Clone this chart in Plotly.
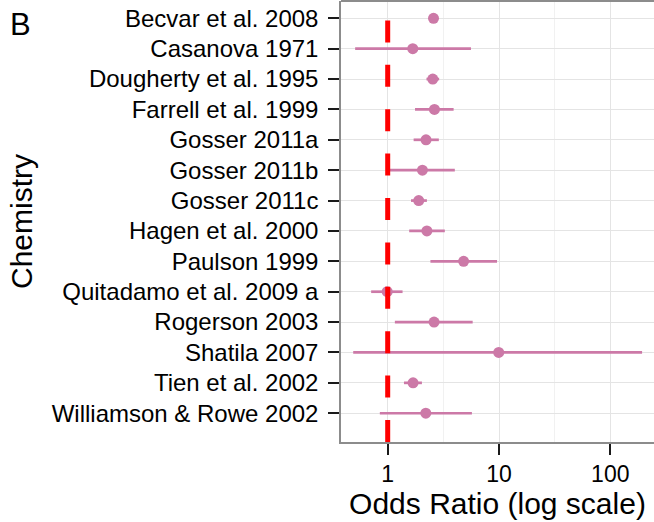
import plotly.graph_objects as go

studies = [
    "Becvar et al. 2008", "Casanova 1971", "Dougherty et al. 1995",
    "Farrell et al. 1999", "Gosser 2011a", "Gosser 2011b", "Gosser 2011c",
    "Hagen et al. 2000", "Paulson 1999", "Quitadamo et al. 2009 a",
    "Rogerson 2003", "Shatila 2007", "Tien et al. 2002",
    "Williamson & Rowe 2002",
]
odds_ratio = [2.58, 1.68, 2.54, 2.63, 2.21, 2.05, 1.90, 2.25, 4.81, 0.99, 2.61, 9.94, 1.69, 2.20]
ci_low = [2.45, 0.51, 2.23, 1.76, 1.71, 1.04, 1.62, 1.56, 2.42, 0.71, 1.16, 0.49, 1.40, 0.85]
ci_high = [2.70, 5.60, 2.90, 3.91, 2.88, 4.01, 2.25, 3.26, 9.60, 1.36, 5.80, 193.0, 2.03, 5.71]
x_ticks = [1, 10, 100]
x_tick_labels = ["1", "10", "100"]
x_minor = [3.1623, 31.623]
reference_or = 1

PINK = "#CC79A7"
FONT = "Liberation Sans, Arial, sans-serif"

fig = go.Figure()
fig.add_trace(go.Scatter(
    x=odds_ratio,
    y=list(range(len(studies))),
    mode="markers",
    marker=dict(color=PINK, size=11, line=dict(width=0)),
    error_x=dict(
        type="data", symmetric=False,
        array=[h - o for h, o in zip(ci_high, odds_ratio)],
        arrayminus=[o - l for o, l in zip(odds_ratio, ci_low)],
        color=PINK, thickness=2.7, width=0,
    ),
    showlegend=False,
    cliponaxis=True,
    hoverinfo="skip",
))

fig.add_shape(
    type="line", xref="x", yref="paper",
    x0=reference_or, x1=reference_or, y0=0, y1=1,
    line=dict(color="#FF0000", width=5, dash="22px,22.4px"),
    layer="above",
)
# top panel border
fig.add_shape(
    type="line", xref="paper", yref="paper", x0=0, x1=1, y0=1, y1=1,
    line=dict(color="#8c8c8c", width=2), layer="above",
)

fig.add_annotation(
    text="B", xref="paper", yref="paper", x=-341 / 313 + 8 / 313, y=1.0,
    xanchor="left", yanchor="top", showarrow=False,
    font=dict(family=FONT, size=31, color="black"), yshift=-4,
)

fig.update_layout(
    width=654, height=522,
    margin=dict(l=341, r=0, t=1, b=80),
    paper_bgcolor="white", plot_bgcolor="white",
    font=dict(family=FONT, color="black"),
    xaxis=dict(
        type="log",
        range=[-0.4196, 2.3927],
        tickmode="array", tickvals=x_ticks, ticktext=x_tick_labels,
        showgrid=True, gridcolor="#e4e4e4", gridwidth=1.2,
        minor=dict(tickmode="array", tickvals=x_minor, showgrid=True,
                   gridcolor="#f1f1f1", gridwidth=1, ticks=""),
        showline=True, linecolor="#8c8c8c", linewidth=1.5,
        ticks="outside", ticklen=11, tickwidth=2, tickcolor="#1a1a1a",
        tickfont=dict(family=FONT, size=23, color="black"),
        title=dict(text="Odds Ratio (log scale)",
                   font=dict(family=FONT, size=30, color="black"), standoff=5),
        zeroline=False,
    ),
    yaxis=dict(
        tickmode="array",
        tickvals=list(range(len(studies))),
        ticktext=studies,
        range=[13.947, -0.569],
        showgrid=True, gridcolor="#e4e4e4", gridwidth=1.2,
        showline=True, linecolor="#8c8c8c", linewidth=1.5,
        ticks="outside", ticklen=11, tickwidth=2, tickcolor="#1a1a1a",
        tickfont=dict(family=FONT, size=24, color="black"),
        ticklabelstandoff=5,
        title=dict(text="Chemistry",
                   font=dict(family=FONT, size=30, color="black"), standoff=10),
        zeroline=False,
    ),
)

fig.write_html("out.html", config={"displayModeBar": False},
               post_script="document.body.style.margin='0';")
